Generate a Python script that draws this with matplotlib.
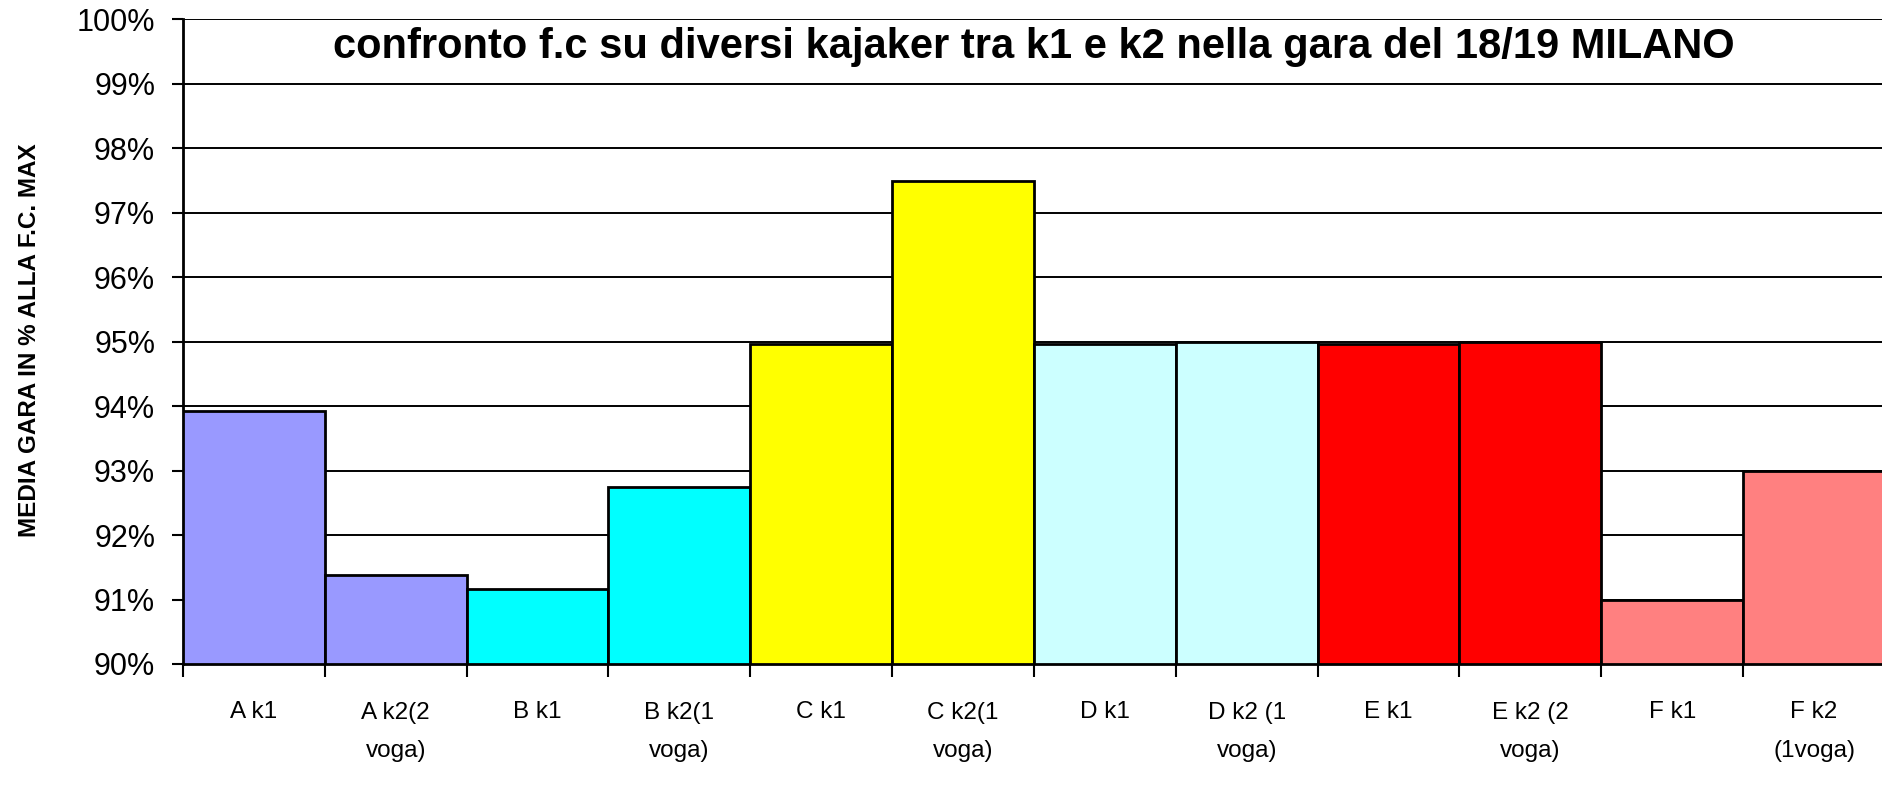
import matplotlib.pyplot as plt
from matplotlib.ticker import FuncFormatter

# dati
labels = ["A k1", "A k2(2\nvoga)", "B k1", "B k2(1\nvoga)", "C k1", "C k2(1\nvoga)",
          "D k1", "D k2 (1\nvoga)", "E k1", "E k2 (2\nvoga)", "F k1", "F k2\n(1voga)"]
values = [93.92, 91.38, 91.17, 92.74, 94.96, 97.50,
          94.96, 95.00, 94.96, 95.00, 91.00, 93.00]
colors = ["#9999FF", "#9999FF", "#00FFFF", "#00FFFF", "#FFFF00", "#FFFF00",
          "#CCFFFF", "#CCFFFF", "#FF0000", "#FF0000", "#FF8080", "#FF8080"]
titolo = "confronto f.c su diversi kajaker tra k1 e k2 nella gara del 18/19 MILANO"
ylabel = "MEDIA GARA IN % ALLA F.C. MAX"

plt.rcParams["font.family"] = ["Liberation Sans", "DejaVu Sans"]

fig = plt.figure(figsize=(18.83, 7.92), dpi=100)
ax = fig.add_axes([183 / 1883, 1 - 664 / 792, (1885 - 183) / 1883, (664 - 19.5) / 792])

base = 90
x = list(range(len(values)))
ax.bar(x, [v - base for v in values], bottom=base, width=1, align="edge",
       color=colors, edgecolor="black", linewidth=2, zorder=3)

ax.set_xlim(0, len(values))
ax.set_ylim(90, 100)
ax.set_yticks(range(90, 101))
ax.yaxis.set_major_formatter(FuncFormatter(lambda v, p: f"{v:.0f}%"))
ax.grid(axis="y", color="black", linewidth=1.4, zorder=0)
ax.set_axisbelow(True)

# tacche ai bordi delle categorie, etichette al centro
ax.set_xticks(range(len(values) + 1))
ax.set_xticklabels([])
ax.set_xticks([i + 0.5 for i in x], minor=True)
ax.set_xticklabels(labels, minor=True, fontsize=17.5, linespacing=2.0, va="top")
ax.tick_params(axis="x", which="major", length=9, width=1.5, direction="out")
ax.tick_params(axis="x", which="minor", length=0, pad=27)
ax.tick_params(axis="y", length=8, width=1.5, direction="out", labelsize=22, pad=12)

for s in ["top", "right"]:
    ax.spines[s].set_visible(False)
ax.spines["left"].set_linewidth(2)
ax.spines["bottom"].set_linewidth(2)

ax.text(0.5, 1 - 28 / 644.5, titolo, transform=ax.transAxes, ha="center", va="center",
        fontsize=30, fontweight="bold")
fig.text(30 / 1883, 1 - 340 / 792, ylabel, rotation=90, ha="center", va="center",
         fontsize=17.5, fontweight="bold")

fig.savefig("out.png", dpi=100)
